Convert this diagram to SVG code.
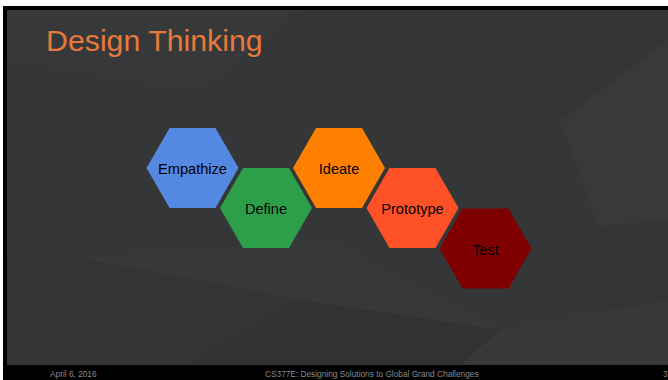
<svg xmlns="http://www.w3.org/2000/svg" width="668" height="380" viewBox="0 0 668 380">
<defs>
<style>
.hex text{font-family:"Liberation Sans",Arial,sans-serif;font-size:14.6px;fill:#000;text-anchor:middle}
.foot{font-family:"Liberation Sans",Arial,sans-serif;font-size:8.3px;fill:#8a8a8a}
</style>
<polygon id="hx" points="-46,0 -23,-40 23,-40 46,0 23,40 -23,40"/>
</defs>
<rect x="0" y="0" width="668" height="380" fill="#ffffff"/>
<rect x="3" y="6" width="665" height="374" fill="#000000"/>
<g id="slide-bg">
<rect x="7" y="10" width="661" height="355" fill="#343638"/>
<polygon points="7,10 300,10 200,90 7,60" fill="#363839"/>
<polygon points="300,10 668,10 668,40 560,120 420,70" fill="#333537"/>
<polygon points="668,40 668,220 600,230 560,120" fill="#38393b"/>
<polygon points="7,260 80,258 300,300 190,365 7,365" fill="#323436"/>
<polygon points="80,258 330,240 500,330 300,300" fill="#363839"/>
<polygon points="300,300 500,330 460,365 190,365" fill="#303234"/>
<polygon points="500,330 668,300 668,365 460,365" fill="#363839"/>
<polygon points="560,230 668,220 668,300 600,310" fill="#333537"/>
</g>
<g id="title"><text x="46" y="51" font-family="'Liberation Sans',Arial,sans-serif" font-size="30.3" fill="#e8793a">Design Thinking</text></g>
<g id="connectors"></g>
<g id="empathize" class="hex" transform="translate(192.5,168)"><use href="#hx" fill="#5588e0"/><text y="6">Empathize</text></g>
<g id="define" class="hex" transform="translate(266,208)"><use href="#hx" fill="#2d9f4b"/><text y="6">Define</text></g>
<g id="ideate" class="hex" transform="translate(339,168)"><use href="#hx" fill="#ff8000"/><text y="6">Ideate</text></g>
<g id="prototype" class="hex" transform="translate(412.5,208)"><use href="#hx" fill="#ff5127"/><text y="6">Prototype</text></g>
<g id="test" class="hex" transform="translate(485.5,248.5)"><use href="#hx" fill="#7f0000"/><text y="6">Test</text></g>
<g id="footer">
<text class="foot" x="50" y="377">April 6, 2016</text>
<text class="foot" x="265" y="377">CS377E: Designing Solutions to Global Grand Challenges</text>
<text class="foot" x="663" y="377">3</text>
</g>
</svg>
